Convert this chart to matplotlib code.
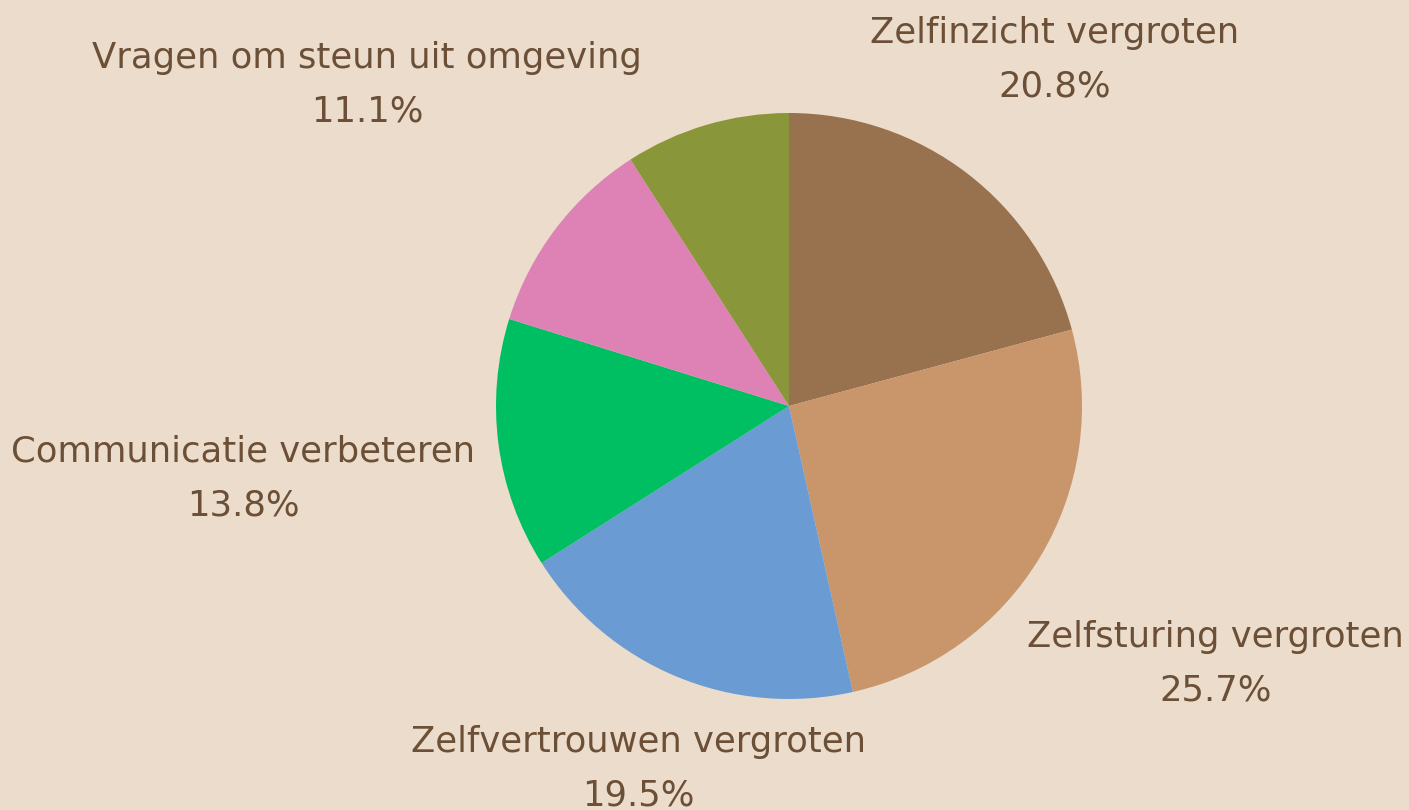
import numpy as np
import matplotlib
matplotlib.use("Agg")
import matplotlib.pyplot as plt

categories = ["Zelfinzicht vergroten", "Zelfsturing vergroten", "Zelfvertrouwen vergroten",
              "Communicatie verbeteren", "Vragen om steun uit omgeving", ""]
values = [20.8, 25.7, 19.5, 13.8, 11.1, 9.1]
colors = ["#98714F", "#C9966B", "#6A9BD3", "#00BE62", "#DE82B5", "#8A963A"]
label_dist = [1.49, 1.70, 1.34, 1.88, 1.81, 1.5]

bg = "#ECDCCC"
txt = "#6B4F36"

fig = plt.figure(figsize=(14.09, 8.10), dpi=100, facecolor=bg)
ax = fig.add_axes([0, 0, 1, 1])
ax.set_facecolor(bg)

wedges, _ = ax.pie(values, colors=colors, startangle=90, counterclock=False,
                   radius=1.0, wedgeprops=dict(linewidth=0))

R = 293.0
cx, cy = 789.0, 406.0
W, H = 1409.0, 810.0
ax.set_xlim(-cx / R, (W - cx) / R)
ax.set_ylim(-(H - cy) / R, cy / R)
ax.set_aspect("equal")
ax.axis("off")

total = sum(values)
for w, cat, v, d in zip(wedges, categories, values, label_dist):
    if not cat:
        continue
    mid = np.deg2rad((w.theta1 + w.theta2) / 2)
    x, y = d * np.cos(mid), d * np.sin(mid)
    ax.text(x, y, f"{cat}\n{v / total * 100:.1f}%", ha="center", va="center",
            color=txt, fontsize=25.5, family="DejaVu Sans", linespacing=1.73)

fig.savefig("out.png", dpi=100, facecolor=bg)
